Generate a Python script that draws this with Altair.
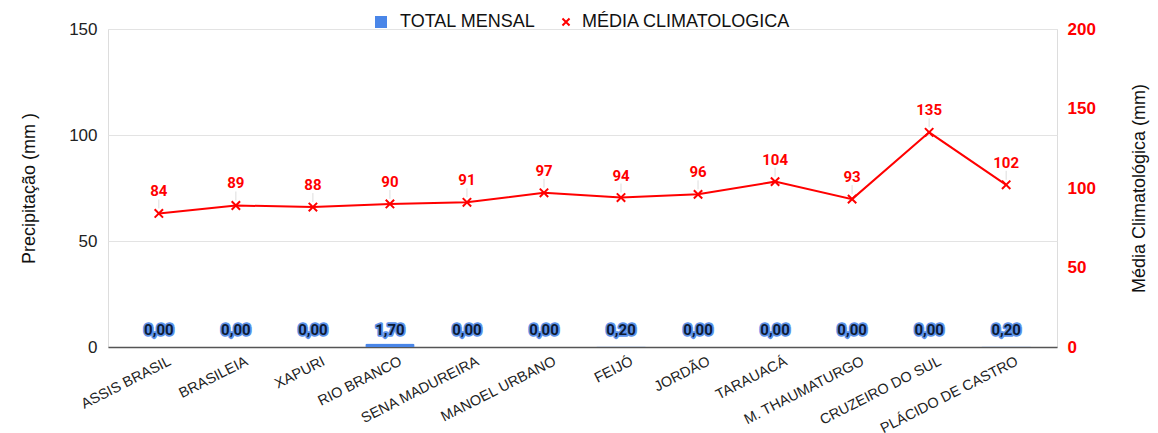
import altair as alt
import pandas as pd

stations = ["ASSIS BRASIL", "BRASILEIA", "XAPURI", "RIO BRANCO", "SENA MADUREIRA",
            "MANOEL URBANO", "FEIJÓ", "JORDÃO", "TARAUACÁ", "M. THAUMATURGO",
            "CRUZEIRO DO SUL", "PLÁCIDO DE CASTRO"]
total_mensal = [0.00, 0.00, 0.00, 1.70, 0.00, 0.00, 0.20, 0.00, 0.00, 0.00, 0.00, 0.20]
media_clim = [84, 89, 88, 90, 91, 97, 94, 96, 104, 93, 135, 102]
series_names = ["TOTAL MENSAL", "MÉDIA CLIMATOLOGICA"]

df = pd.DataFrame({
    "station": stations,
    "total": total_mensal,
    "media": media_clim,
})
df["total_label"] = [f"{v:.2f}".replace(".", ",") for v in total_mensal]
df["serie_bar"] = series_names[0]
df["serie_line"] = series_names[1]

BLUE = "#4a86e8"
RED = "#ff0000"
FONT = "Liberation Sans"
XPATH = "M-1,-1L1,1M-1,1L1,-1"

x = alt.X("station:N", sort=stations, title=None,
          scale=alt.Scale(paddingInner=0.36, paddingOuter=0.34),
          axis=alt.Axis(labelAngle=-27, labelAlign="right", labelBaseline="top",
                        labelOffset=8, labelPadding=7, labelFontSize=14.5,
                        labelColor="#222", ticks=False, domainColor="#555",
                        domainWidth=1.5, grid=False, labelLimit=300))

y_left = alt.Y("total:Q", title="Precipitação (mm )",
               scale=alt.Scale(domain=[0, 150], nice=False),
               axis=alt.Axis(values=[0, 50, 100, 150], grid=True, gridColor="#e3e3e3",
                             domain=False, ticks=False, labelFontSize=17,
                             labelColor="#222", labelPadding=11,
                             titleFontSize=18, titleFontWeight="normal",
                             titleColor="#111", titlePadding=30))

bars = alt.Chart(df).mark_bar(cornerRadiusTopLeft=2, cornerRadiusTopRight=2).encode(
    x=x, y=y_left,
    color=alt.Color("serie_bar:N",
                    scale=alt.Scale(domain=[series_names[0]], range=[BLUE]),
                    legend=alt.Legend(title=None, orient="none", legendX=264, legendY=-16,
                                      labelFontSize=18, labelColor="#111", labelFont=FONT,
                                      symbolType="square", symbolSize=144,
                                      symbolStrokeWidth=0, labelOffset=10,
                                      labelLimit=400)),
)

halo = alt.Chart(df).mark_text(font="Roboto", fontSize=15, fontWeight="bold", dy=-12,
                               baseline="alphabetic", fill=BLUE, stroke=BLUE,
                               strokeWidth=3.5, strokeJoin="round", opacity=0.9).encode(
    x=x, y=alt.datum(0), text="total_label:N")

blabels = alt.Chart(df).mark_text(font="Roboto", fontSize=15, fontWeight="bold", dy=-12,
                                  baseline="alphabetic", color="#0d1a33").encode(
    x=x, y=alt.datum(0), text="total_label:N")

left = alt.layer(bars, halo, blabels)

y_right = alt.Y("media:Q", title="Média Climatológica (mm)",
                scale=alt.Scale(domain=[0, 200], nice=False),
                axis=alt.Axis(orient="right", values=[0, 50, 100, 150, 200], grid=False,
                              domain=False, ticks=False, labelFontSize=17,
                              labelFontWeight="bold", labelColor=RED, labelPadding=10,
                              titleFontSize=18, titleFontWeight="normal", titleAngle=270,
                              titleColor="#111", titlePadding=53))

line = alt.Chart(df).mark_line(color=RED, strokeWidth=2).encode(x=x, y=y_right)

leaders = alt.Chart(df).mark_rule(color="#dddddd", strokeWidth=1, yOffset=-5, y2Offset=-14).encode(
    x=x, y=alt.Y("media:Q"), y2="media:Q")

points = alt.Chart(df).mark_point(filled=False, color=RED, size=70,
                                  strokeWidth=2, opacity=1).encode(
    x=x, y=alt.Y("media:Q"),
    shape=alt.Shape("serie_line:N",
                    scale=alt.Scale(domain=[series_names[1]], range=[XPATH]),
                    legend=alt.Legend(title=None, orient="none", legendX=449, legendY=-16,
                                      labelFontSize=18, labelColor="#111", labelFont=FONT,
                                      symbolSize=50, symbolStrokeColor=RED,
                                      symbolFillColor="transparent",
                                      symbolStrokeWidth=2, labelOffset=7,
                                      labelLimit=400)),
)

plabels = alt.Chart(df).mark_text(font="Roboto", fontSize=15, fontWeight="bold", dy=-17,
                                  baseline="alphabetic", color=RED).encode(
    x=x, y=alt.Y("media:Q"), text="media:Q")

right = alt.layer(line, leaders, points, plabels)

chart = alt.layer(left, right).resolve_scale(y="independent").properties(
    width=949, height=318,
    autosize=alt.AutoSizeParams(type="none"),
    padding={"left": 100, "top": 21, "right": 93, "bottom": 86},
).configure_view(strokeWidth=0).configure(font=FONT)

chart.save("out.html", embed_options={"renderer": "svg", "actions": False})
